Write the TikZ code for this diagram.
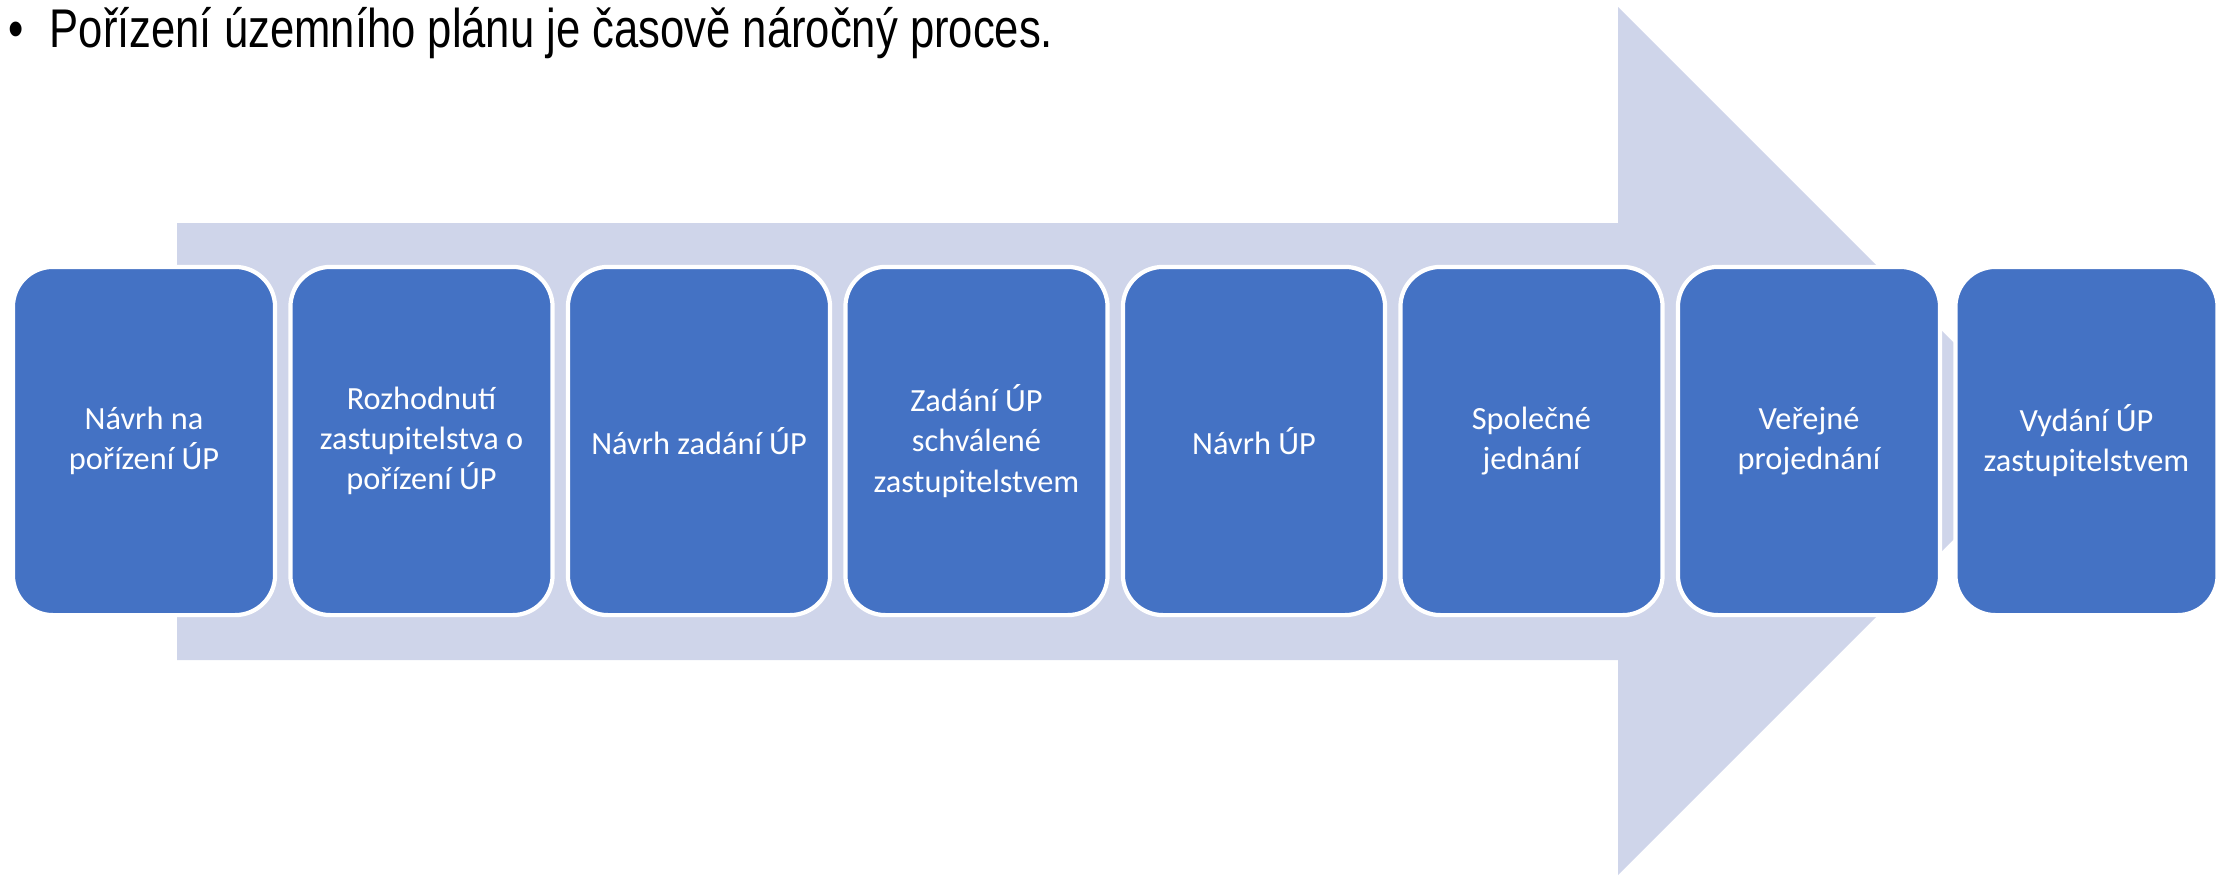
\documentclass[tikz,border=0pt]{standalone}
\usepackage{fontspec}
\setmainfont{Carlito}
\newfontfamily\nadpisfont[FakeStretch=0.8]{Liberation Sans}
\usetikzlibrary{positioning}

\definecolor{sipka}{HTML}{CFD5EA}
\definecolor{krok}{HTML}{4472C4}

\tikzset{
  krokbox/.style={draw=white, line width=1.2pt, fill=krok, rounded corners=0.4cm,
    minimum width=2.62cm, minimum height=3.48cm, inner sep=0pt,
    text=white, align=center, font=\fontsize{9.2}{11.4}\selectfont},
  nadpis/.style={font=\nadpisfont\fontsize{15.5}{18}\selectfont, inner sep=0pt}
}

\begin{document}
\begin{tikzpicture}[x=0.01cm, y=-0.01cm]
  \useasboundingbox (0,0) rectangle (2226,875);

  % Nadpis
  \node[nadpis, anchor=base west] (nadpis) at (49,47) {Pořízení územního plánu je časově náročný proces.};
  \node[nadpis, anchor=base east] (odrazka) at (24,47) {•};

  % Velka sipka na pozadi
  \fill[sipka] (177,223) -- (1618,223) -- (1618,7) -- (2052,441)
    -- (1618,875) -- (1618,660) -- (177,660) -- cycle;

  % Kroky
  \foreach \i/\txt in {1/{Návrh na\\pořízení ÚP},
                       2/{Rozhodnutí\\zastupitelstva o\\pořízení ÚP},
                       3/{Návrh zadání ÚP},
                       4/{Zadání ÚP\\schválené\\zastupitelstvem},
                       5/{Návrh ÚP},
                       6/{Společné\\jednání},
                       7/{Veřejné\\projednání},
                       8/{Vydání ÚP\\zastupitelstvem}} {
    \node[krokbox] (k\i) at ({144+277.5*(\i-1)},441) {\txt};
  }
\end{tikzpicture}
\end{document}
